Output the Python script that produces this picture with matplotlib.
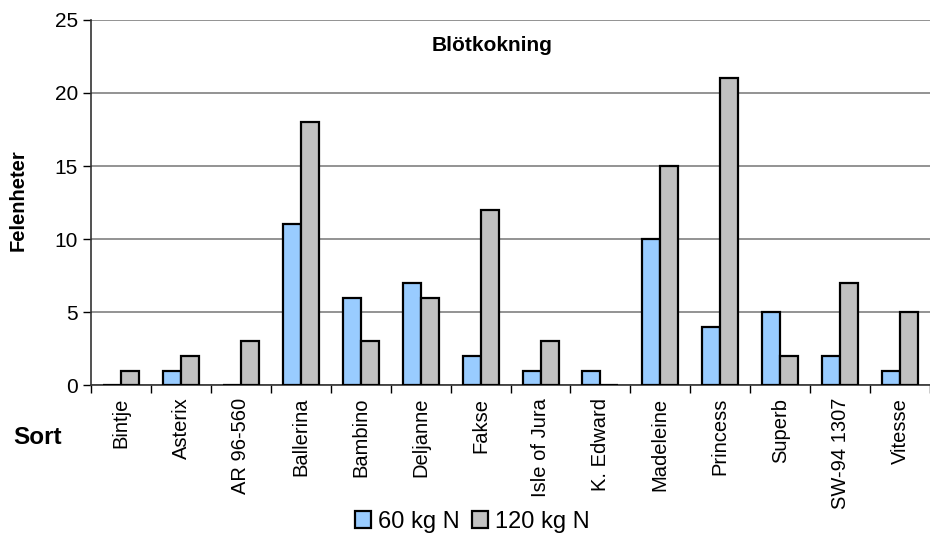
import numpy as np
import matplotlib.pyplot as plt

plt.rcParams['font.family'] = ['Liberation Sans', 'DejaVu Sans']

sorter = ["Bintje", "Asterix", "AR 96-560", "Ballerina", "Bambino", "Deljanne",
          "Fakse", "Isle of Jura", "K. Edward", "Madeleine", "Princess",
          "Superb", "SW-94 1307", "Vitesse"]
kg60 = [0, 1, 0, 11, 6, 7, 2, 1, 1, 10, 4, 5, 2, 1]
kg120 = [1, 2, 3, 18, 3, 6, 12, 3, 0, 15, 21, 2, 7, 5]

fig = plt.figure(figsize=(9.3, 5.38), dpi=100)
ax = fig.add_axes([0.098, 0.284, 0.902, 0.679])

x = np.arange(len(sorter))
w = 0.3
ax.bar(x - w/2, kg60, w, color='#99CCFF', edgecolor='black', linewidth=1.6,
       label='60 kg N', zorder=3)
ax.bar(x + w/2, kg120, w, color='#C0C0C0', edgecolor='black', linewidth=1.6,
       label='120 kg N', zorder=3)

ax.set_xlim(-0.5, len(sorter) - 0.5)
ax.set_ylim(0, 25)
ax.set_yticks([0, 5, 10, 15, 20, 25])
ax.yaxis.grid(True, color='#808080', linewidth=1.2, zorder=0)

ax.set_xticks(x)
ax.set_xticklabels(sorter, rotation=90, fontsize=14.5)
ax.set_xticks(np.arange(len(sorter) + 1) - 0.5, minor=True)
ax.tick_params(axis='x', which='major', length=0, pad=9)
ax.tick_params(axis='x', which='minor', length=6, width=1, direction='out')
ax.tick_params(axis='y', labelsize=15, length=6, width=1, direction='out')

for s in ['top', 'right']:
    ax.spines[s].set_visible(False)
ax.spines['left'].set_color('#333333')
ax.spines['bottom'].set_color('#333333')
ax.spines['left'].set_linewidth(1.2)
ax.spines['bottom'].set_linewidth(1.2)

ax.text(0.478, 0.93, 'Blötkokning', transform=ax.transAxes, ha='center',
        va='center', fontsize=15, fontweight='bold')
fig.text(0.02, 0.628, 'Felenheter', rotation=90, ha='center', va='center',
         fontsize=14.5, fontweight='bold')
fig.text(0.04, 0.186, 'Sort', ha='center', va='center', fontsize=17.5,
         fontweight='bold')

fig.legend(loc='center', bbox_to_anchor=(0.508, 0.03), ncol=2, frameon=False,
           fontsize=17, handlelength=0.7, handleheight=0.7, handletextpad=0.3,
           columnspacing=0.5)

fig.savefig('out.png', dpi=100)
